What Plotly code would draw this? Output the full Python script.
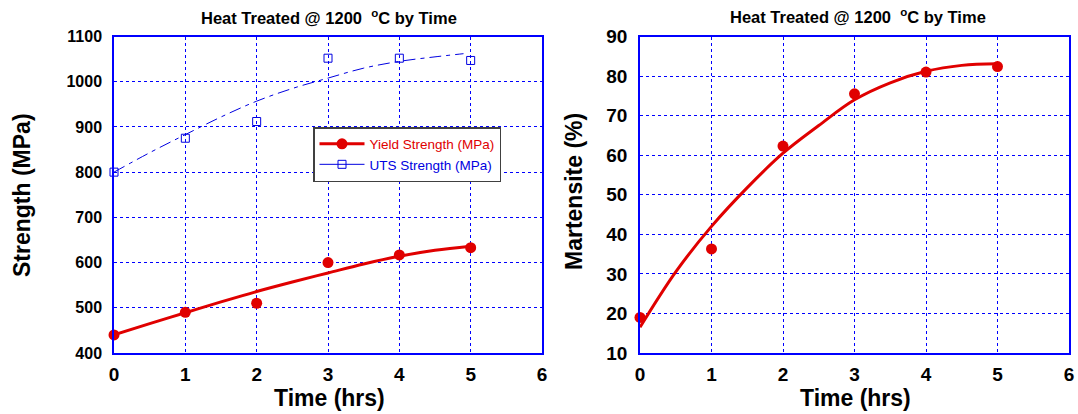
import plotly.graph_objects as go

# ---- data ----
time_hrs = [0, 1, 2, 3, 4, 5]
yield_mpa = [440, 490, 510, 600, 617, 633]
uts_mpa = [800, 875, 912, 1052, 1052, 1047]
martensite_pct = [19, 36.3, 62.3, 75.5, 81, 82.4]

# trend curves
fit_t = [0, 0.5, 1, 1.5, 2, 2.5, 3, 3.5, 4, 4.5, 5]
yield_fit = [440, 465, 489, 513, 536, 557, 577, 597, 614, 627, 636]
uts_fit_t = [0, 0.5, 1, 1.5, 2, 2.5, 3, 3.5, 4, 4.5, 4.9]
uts_fit = [800, 843, 883, 922, 957, 985, 1008, 1030, 1045, 1055, 1062]
mart_fit = [16.5, 30.5, 42, 51.8, 60.5, 67.5, 74, 78.3, 81.2, 82.7, 83.1]

x_ticks = [0, 1, 2, 3, 4, 5, 6]
strength_ticks = [400, 500, 600, 700, 800, 900, 1000, 1100]
mart_ticks = [10, 20, 30, 40, 50, 60, 70, 80, 90]

W, H = 1078, 414
FONT = "Arial, Liberation Sans, sans-serif"
RED = "#e00000"
BLUE = "#0000e0"
AXBLUE = "#0000ff"

def px(x):
    return x / W

def py(y):
    return 1 - y / H

fig = go.Figure()

# left panel
fig.add_trace(go.Scatter(x=fit_t, y=yield_fit, mode="lines", line=dict(color=RED, width=3, shape="spline"),
                         showlegend=False, xaxis="x", yaxis="y"))
fig.add_trace(go.Scatter(x=uts_fit_t, y=uts_fit, mode="lines",
                         line=dict(color=BLUE, width=1, shape="spline", dash="12px,5px,4px,5px"),
                         showlegend=False, xaxis="x", yaxis="y"))
fig.add_trace(go.Scatter(x=time_hrs, y=yield_mpa, mode="markers", marker=dict(color=RED, size=11),
                         showlegend=False, cliponaxis=False, xaxis="x", yaxis="y"))
fig.add_trace(go.Scatter(x=time_hrs, y=uts_mpa, mode="markers",
                         marker=dict(symbol="square-open", color=BLUE, size=8, line=dict(width=1)),
                         showlegend=False, cliponaxis=False, xaxis="x", yaxis="y"))
# legend entries
fig.add_trace(go.Scatter(x=[None], y=[None], mode="lines+markers",
                         name='<span style="color:#e00000">Yield Strength (MPa)</span>',
                         line=dict(color=RED, width=3), marker=dict(color=RED, size=11),
                         xaxis="x", yaxis="y"))
fig.add_trace(go.Scatter(x=[None], y=[None], mode="lines+markers",
                         name='<span style="color:#0000e0">UTS Strength (MPa)</span>',
                         line=dict(color=BLUE, width=1),
                         marker=dict(symbol="square-open", color=BLUE, size=8, line=dict(width=1)),
                         xaxis="x", yaxis="y"))

# right panel
fig.add_trace(go.Scatter(x=fit_t, y=mart_fit, mode="lines", line=dict(color=RED, width=3, shape="spline"),
                         showlegend=False, xaxis="x2", yaxis="y2"))
fig.add_trace(go.Scatter(x=time_hrs, y=martensite_pct, mode="markers", marker=dict(color=RED, size=11),
                         showlegend=False, cliponaxis=False, xaxis="x2", yaxis="y2"))

axis_common = dict(showline=True, linecolor=AXBLUE, linewidth=1.5, mirror=True,
                   showgrid=True, gridcolor=AXBLUE, gridwidth=1, griddash="dot",
                   zeroline=False, ticks="outside", tickcolor="rgba(0,0,0,0)",
                   automargin=False)

ydom = [py(353), py(36.5)]
xfont = dict(size=19, family=FONT, weight="bold")

fig.update_layout(
    width=W, height=H,
    margin=dict(l=0, r=0, t=0, b=0),
    paper_bgcolor="white", plot_bgcolor="white",
    font=dict(family=FONT, color="black"),
    xaxis=dict(domain=[px(114), px(542)], range=[0, 6], tickvals=x_ticks, anchor="y",
               tickfont=xfont, ticklen=3, **axis_common),
    yaxis=dict(domain=ydom, range=[400, 1100], tickvals=strength_ticks, anchor="x",
               tickfont=dict(size=16, family=FONT, weight="bold"), ticklen=7, **axis_common),
    xaxis2=dict(domain=[px(640), px(1069)], range=[0, 6], tickvals=x_ticks, anchor="y2",
                tickfont=xfont, ticklen=3, **axis_common),
    yaxis2=dict(domain=ydom, range=[10, 90], tickvals=mart_ticks, anchor="x2",
                tickfont=dict(size=19, family=FONT, weight="bold"), ticklen=7, **axis_common),
    legend=dict(x=px(313), y=py(127), xanchor="left", yanchor="top",
                bgcolor="white", bordercolor="#404040", borderwidth=1.5,
                font=dict(size=13.5, family=FONT), tracegroupgap=0, itemwidth=45),
    showlegend=True,
)

title_txt = "<b>Heat Treated @ 1200  <sup>o</sup>C by Time</b>"
ann = [
    dict(x=px(329), y=py(17), text=title_txt, font=dict(size=16.5)),
    dict(x=px(858), y=py(16), text=title_txt, font=dict(size=16.5)),
    dict(x=px(329), y=py(398), text="<b>Time (hrs)</b>", font=dict(size=23)),
    dict(x=px(855), y=py(398), text="<b>Time (hrs)</b>", font=dict(size=23)),
    dict(x=px(22), y=py(195), text="<b>Strength (MPa)</b>", font=dict(size=23), textangle=-90),
    dict(x=px(574), y=py(192), text="<b>Martensite (%)</b>", font=dict(size=23), textangle=-90),
]
for a in ann:
    fig.add_annotation(xref="paper", yref="paper", showarrow=False,
                       xanchor="center", yanchor="middle", **a)

fig.write_html(
    "out.html",
    config={"displayModeBar": False},
    post_script="document.body.style.margin='0';document.body.style.overflow='hidden';",
)
